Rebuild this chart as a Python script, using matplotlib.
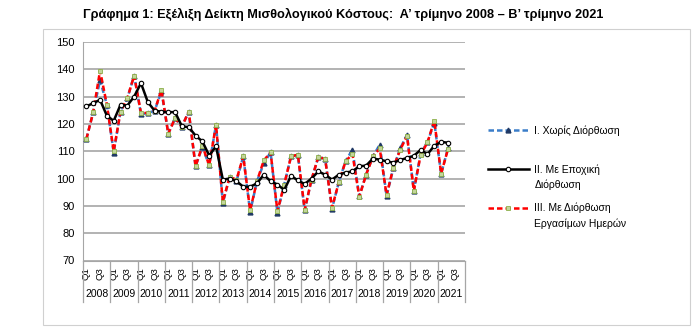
import numpy as np
import matplotlib.pyplot as plt
import matplotlib.transforms as mtransforms
from matplotlib.patches import Rectangle

plt.rcParams['font.family'] = ['Liberation Sans', 'DejaVu Sans']

# %% Data (quarterly index, 2008 Q1 - 2021 Q2)
years = list(range(2008, 2022))
quarters = ['Q1', 'Q2', 'Q3', 'Q4']
title = 'Γράφημα 1: Εξέλιξη Δείκτη Μισθολογικού Κόστους:  Α’ τρίμηνο 2008 – Β’ τρίμηνο 2021'
series_labels = ['I. Χωρίς Διόρθωση', 'II. Με Εποχική', 'III. Με Διόρθωση']
second_lines = ['', 'Διόρθωση', 'Εργασίμων Ημερών']

unadjusted = [114.5, 124.3, 136.0, 127.0,
              109.5, 124.5, 129.4, 137.7,
              123.5, 124.0, 124.8, 132.0,
              116.4, 122.1, 119.0, 124.5,
              104.5, 111.5, 104.8, 119.7,
              91.0, 100.6, 99.0, 108.1,
              87.8, 99.0, 105.5, 109.6,
              87.5, 97.8, 108.1, 108.7,
              88.3, 99.6, 107.9, 107.2,
              89.0, 98.6, 106.5, 110.5,
              93.5, 101.4, 108.1, 112.4,
              93.7, 103.8, 111.0, 116.0,
              95.5, 109.2, 113.3, 120.5,
              101.7, 111.0]

seasonal = [126.4, 127.6, 128.8, 123.0,
            121.1, 127.0, 126.7, 130.0,
            134.9, 128.0, 124.8, 124.5,
            124.3, 124.3, 119.1, 118.8,
            115.7, 113.6, 108.4, 111.8,
            99.6, 100.0, 99.0, 97.0,
            97.0, 98.2, 101.4, 99.0,
            97.8, 95.8, 101.0, 99.3,
            98.0, 100.0, 102.6, 101.4,
            99.6, 101.4, 102.2, 102.6,
            104.5, 104.7, 107.3, 106.9,
            106.3, 105.8, 106.8, 107.5,
            108.3, 110.5, 108.9, 112.0,
            113.4, 113.1]

working_days = [114.5, 124.3, 139.5, 127.0,
                110.0, 124.5, 129.4, 137.7,
                124.0, 124.0, 124.8, 132.5,
                116.4, 122.1, 119.0, 124.5,
                104.5, 112.0, 104.8, 119.7,
                91.5, 100.6, 99.6, 108.1,
                88.3, 99.0, 106.6, 109.6,
                88.0, 97.8, 108.1, 108.7,
                88.6, 99.6, 107.9, 107.2,
                89.3, 98.6, 106.3, 109.0,
                93.3, 101.4, 108.1, 111.0,
                93.9, 104.0, 110.5, 115.6,
                95.5, 108.7, 113.2, 121.2,
                101.8, 110.7]

# %% Plot
fig = plt.figure(figsize=(7.0, 3.32), dpi=100)
ax = fig.add_axes([83 / 700, 1 - 260.5 / 332, (465 - 83) / 700, (260.5 - 41.9) / 332])

n_cat = len(years) * len(quarters)
x = np.arange(len(unadjusted))

l1, = ax.plot(x, unadjusted, color='#3A7DC9', lw=1.8, ls=(0, (2.2, 1.2)),
              marker='^', ms=3.5, mfc='#1F3864', mec='#1F3864', zorder=3)
l3, = ax.plot(x, working_days, color='#FF0000', lw=1.8, ls=(0, (2.2, 1.2)),
              marker='s', ms=2.6, mfc='#C3D69B', mec='#8DB04B', mew=0.6, zorder=4)
l2, = ax.plot(x, seasonal, color='black', lw=1.8,
              marker='o', ms=3.2, mfc='white', mec='black', mew=0.8, zorder=5)

ax.set_xlim(-0.5, n_cat - 0.5)
ax.set_ylim(70, 150)
ax.set_yticks(np.arange(70, 151, 10))
ax.grid(axis='y', color='#a6a6a6', lw=1.2)
ax.set_axisbelow(True)
for side in ['top', 'right']:
    ax.spines[side].set_visible(False)
ax.spines['left'].set_color('#a6a6a6')
ax.spines['bottom'].set_color('#a6a6a6')
ax.tick_params(axis='y', length=0, pad=6, labelsize=8)

# Quarter labels (every other quarter, as in the source)
q_pos = [i for i in range(n_cat) if i % 4 in (0, 2)]
ax.set_xticks(q_pos)
ax.set_xticklabels([quarters[i % 4] for i in q_pos], rotation=90, fontsize=6.8)
ax.tick_params(axis='x', length=0, pad=5)

# Year groups: separators and year labels
trans = mtransforms.blended_transform_factory(ax.transData, ax.transAxes)
for k in range(len(years) + 1):
    ax.plot([4 * k - 0.5, 4 * k - 0.5], [0, -0.19], transform=trans,
            color='#a6a6a6', lw=0.9, clip_on=False)
for k, yr in enumerate(years):
    ax.text(4 * k + 1.5, -0.153, str(yr), transform=trans, ha='center', va='center', fontsize=7.5)

# Legend (second lines added as text below each entry)
leg = fig.legend([l1, l2, l3], series_labels, loc='upper left',
                 bbox_to_anchor=(488 / 700, 1 - 125.5 / 332), frameon=False,
                 fontsize=7.5, handlelength=3.9, handletextpad=0.55,
                 labelspacing=2.7, borderpad=0, borderaxespad=0)
fig.canvas.draw()
W, H = fig.canvas.get_width_height()
for txt, extra in zip(leg.get_texts(), second_lines):
    if extra:
        bb = txt.get_window_extent()
        fig.text(bb.x0 / W, (bb.y0 - 5) / H, extra, ha='left', va='top', fontsize=7.5)

fig.suptitle(title, x=0.49, y=0.975, fontsize=9.2, fontweight='bold')

fig.patches.append(Rectangle((43 / 700, 1 - 325 / 332), (690 - 43) / 700, (325 - 29) / 332,
                             transform=fig.transFigure, fill=False, edgecolor='#d0d0d0', lw=0.8))

fig.savefig('out.png', dpi=100)
